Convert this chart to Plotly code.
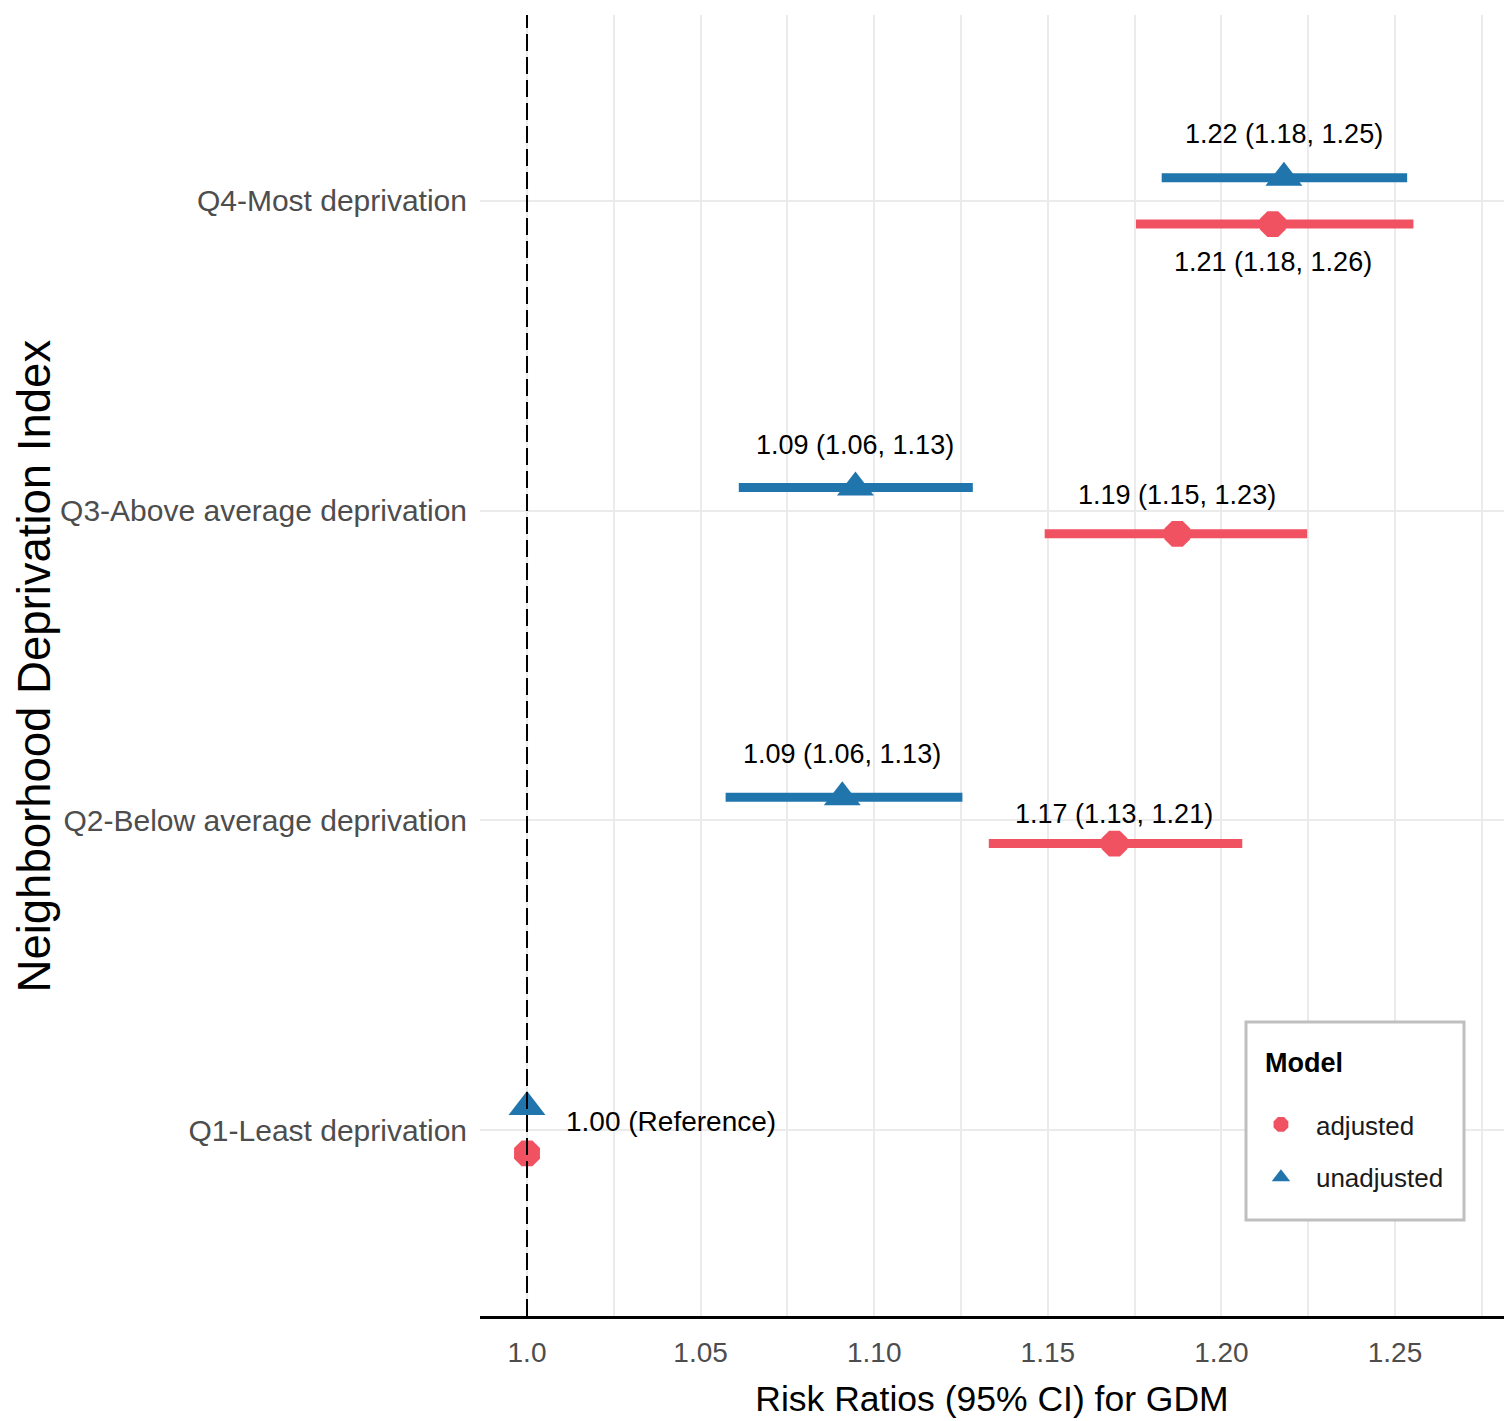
import plotly.graph_objects as go

# ---------------- data ----------------
categories = ["Q1-Least deprivation", "Q2-Below average deprivation",
              "Q3-Above average deprivation", "Q4-Most deprivation"]
cat_pos = [1, 2, 3, 4]

unadj_est = [1.000, 1.0908, 1.0946, 1.2180]
unadj_lo = [1.000, 1.0572, 1.0610, 1.1828]
unadj_hi = [1.000, 1.1254, 1.1284, 1.2535]
unadj_labels = ["", "1.09 (1.06, 1.13)", "1.09 (1.06, 1.13)", "1.22 (1.18, 1.25)"]

adj_est = [1.000, 1.1692, 1.1873, 1.2148]
adj_lo = [1.000, 1.1330, 1.1491, 1.1754]
adj_hi = [1.000, 1.2060, 1.2247, 1.2553]
adj_labels = ["", "1.17 (1.13, 1.21)", "1.19 (1.15, 1.23)", "1.21 (1.18, 1.26)"]

reference_label = "1.00 (Reference)"

x_tickvals = [1.0, 1.05, 1.10, 1.15, 1.20, 1.25]
x_ticktext = ["1.0", "1.05", "1.10", "1.15", "1.20", "1.25"]

# ---------------- style ----------------
BLUE = "#2175AD"
RED = "#F05262"
FONT = "Liberation Sans, Arial, sans-serif"
DODGE = 0.075

fig = go.Figure()

fig.add_trace(go.Scatter(
    name="adjusted", legendgroup="adj",
    x=adj_est, y=[c - DODGE for c in cat_pos], mode="markers",
    marker=dict(symbol="octagon", size=28, color=RED, line=dict(width=0)),
    error_x=dict(type="data", symmetric=False,
                 array=[h - e for h, e in zip(adj_hi, adj_est)],
                 arrayminus=[e - l for e, l in zip(adj_est, adj_lo)],
                 color=RED, thickness=9, width=0),
))
fig.add_trace(go.Scatter(
    name="unadjusted", legendgroup="unadj",
    x=unadj_est, y=[c + DODGE for c in cat_pos], mode="markers",
    marker=dict(symbol="triangle-up", size=32, color=BLUE, line=dict(width=0)),
    error_x=dict(type="data", symmetric=False,
                 array=[h - e for h, e in zip(unadj_hi, unadj_est)],
                 arrayminus=[e - l for e, l in zip(unadj_est, unadj_lo)],
                 color=BLUE, thickness=9, width=0),
))

# value labels
label_font = dict(family=FONT, size=27, color="#000000")
unadj_shift = [0, 43, 42, 44]
adj_shift = [0, 30, 39, -38]
for i in range(1, 4):
    fig.add_annotation(x=unadj_est[i], y=cat_pos[i] + DODGE, text=unadj_labels[i],
                       showarrow=False, yshift=unadj_shift[i], font=label_font,
                       xanchor="center", yanchor="middle")
    fig.add_annotation(x=adj_est[i], y=cat_pos[i] - DODGE, text=adj_labels[i],
                       showarrow=False, yshift=adj_shift[i], font=label_font,
                       xanchor="center", yanchor="middle")
fig.add_annotation(x=unadj_est[0], y=cat_pos[0], text=reference_label,
                   showarrow=False, xshift=37, yshift=9,
                   font=dict(family=FONT, size=28, color="#000000"),
                   xanchor="left", yanchor="middle")

# y-axis title
fig.add_annotation(text="Neighborhood Deprivation Index", xref="paper", yref="paper",
                   x=-0.4346, y=0.5, xanchor="center", yanchor="middle",
                   textangle=-90, showarrow=False,
                   font=dict(family=FONT, size=45.5, color="#000000"))

# reference line at RR = 1
fig.add_shape(type="line", xref="x", yref="paper", x0=1.0, x1=1.0, y0=0, y1=1,
              line=dict(color="black", width=2, dash="17px,6px"), layer="above")

# legend frame and title
fig.add_shape(type="rect", xref="paper", yref="paper",
              x0=0.74805, x1=0.96094, y0=0.07379, y1=0.22598,
              line=dict(color="#BFBFBF", width=3), fillcolor="white", layer="above")
fig.add_annotation(text="<b>Model</b>", xref="paper", yref="paper",
                   x=0.7646, y=0.1945, xanchor="left", yanchor="middle",
                   showarrow=False, font=dict(family=FONT, size=27, color="#000000"))

fig.update_xaxes(
    range=[0.98646, 1.28139], automargin=False,
    tickmode="array", tickvals=x_tickvals, ticktext=x_ticktext,
    tickfont=dict(family=FONT, size=28, color="#4D4D4D"),
    ticks="", ticklabelstandoff=10,
    showgrid=True, gridcolor="#EBEBEB", gridwidth=2,
    minor=dict(dtick=0.025, tick0=1.0, showgrid=True, gridcolor="#EBEBEB", gridwidth=2),
    zeroline=False,
    showline=True, linecolor="black", linewidth=2.5,
    title=dict(text="Risk Ratios (95% CI) for GDM",
               font=dict(family=FONT, size=35.5, color="#000000"), standoff=19),
)
fig.update_yaxes(
    range=[0.4, 4.6], automargin=False,
    tickmode="array", tickvals=cat_pos, ticktext=categories,
    tickfont=dict(family=FONT, size=30, color="#4D4D4D"),
    ticks="", ticklabelstandoff=12,
    showgrid=True, gridcolor="#EBEBEB", gridwidth=2,
    zeroline=False, showline=False,
)

fig.update_layout(
    width=1504, height=1421,
    margin=dict(l=480, r=0, t=15, b=105, pad=0),
    paper_bgcolor="white", plot_bgcolor="white",
    showlegend=True,
    legend=dict(
        font=dict(family=FONT, size=26, color="#1A1A1A"),
        x=0.748, y=0.1652, xanchor="left", yanchor="top",
        bgcolor="rgba(0,0,0,0)", borderwidth=0,
        tracegroupgap=16, itemwidth=60,
    ),
)

fig.write_html("out.html", config={"displayModeBar": False},
               post_script="document.body.style.margin='0px';")
